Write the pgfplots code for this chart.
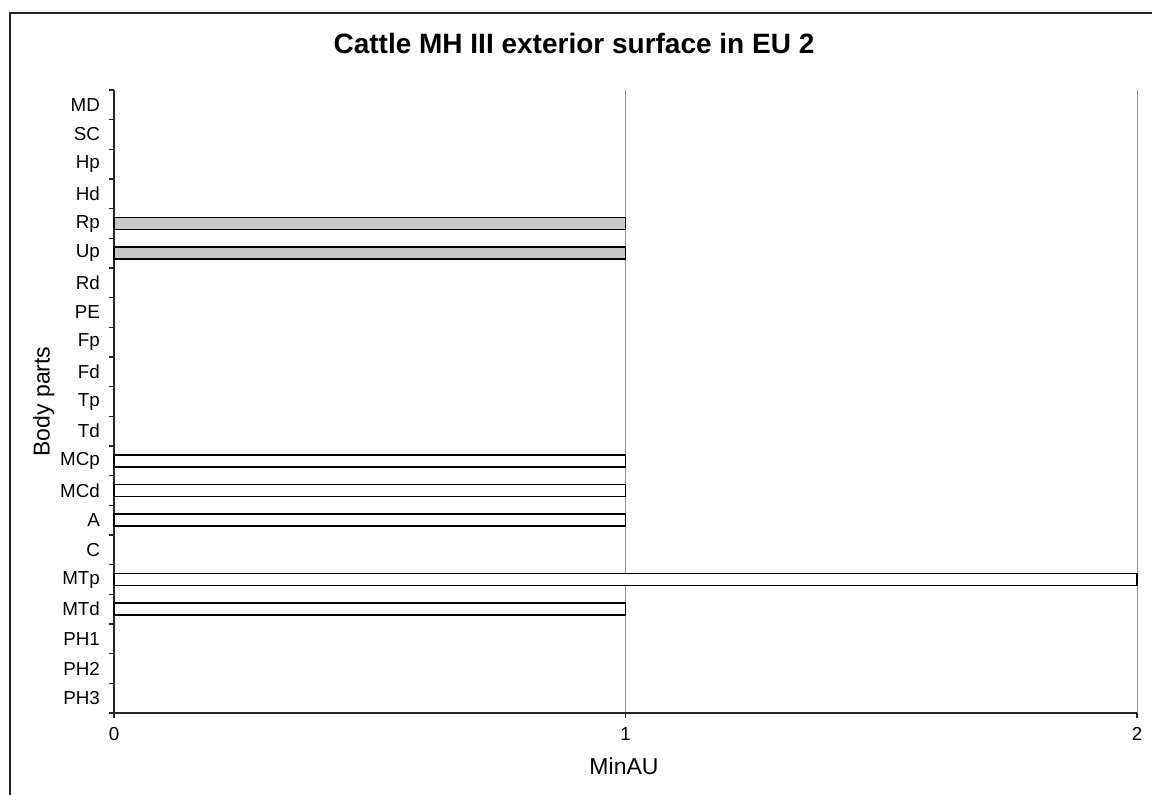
\documentclass[border=0pt]{standalone}
\usepackage{pgfplots}
\pgfplotsset{compat=1.18}
\usepackage{fontspec}
\setmainfont{Liberation Sans}
\definecolor{barfill}{RGB}{200,200,200}
\definecolor{gridc}{RGB}{150,150,150}
\begin{document}
\begin{tikzpicture}[x=1pt,y=1pt]
\useasboundingbox (0,0) rectangle (576,397);
\draw[line width=0.6pt,black!85] (5,-2) -- (5,390.5) -- (580,390.5);
\node[font=\bfseries\fontsize{14}{16}\selectfont] at (287,375.5) {Cattle MH III exterior surface in EU 2};
\begin{axis}[
  at={(57pt,40.5pt)}, anchor=south west,
  scale only axis, width=511.5pt, height=311.5pt,
  xmin=0, xmax=2, ymin=-0.5, ymax=20.5,
  axis x line=bottom, axis y line=left,
  axis line style={-, line width=1pt, black!85},
  xtick={0,1,2},
  ytick={0,...,20},
  yticklabels={PH3,PH2,PH1,MTd,MTp,C,A,MCd,MCp,Td,Tp,Fd,Fp,PE,Rd,Up,Rp,Hd,Hp,SC,MD},
  minor ytick={-0.5,0.5,...,20.5},
  tick align=outside,
  major y tick style={draw=none},
  minor tick length=2.5pt, major tick length=2.5pt,
  tick style={black!85, line width=0.6pt},
  xmajorgrids, major grid style={gridc, line width=0.4pt},
  /pgf/number format/assume math mode=true,
  tick label style={font=\fontsize{9.4}{10}\selectfont},
  yticklabel style={xshift=-1pt},
  xticklabel style={yshift=-1.25pt},
  xlabel={MinAU}, ylabel={Body parts},
  label style={font=\fontsize{11.5}{13}\selectfont},
  xlabel style={yshift=-1.75pt, xshift=-0.75pt},
  ylabel style={yshift=-4pt},
  xbar, bar width=6pt, bar shift=0pt,
  clip=false,
]
\addplot[fill=barfill, draw=black, line width=0.7pt] coordinates {(1,16) (1,15)};
\addplot[fill=white, draw=black, line width=0.7pt] coordinates {(1,8) (1,7) (1,6) (2,4) (1,3)};
\end{axis}
\end{tikzpicture}
\end{document}
